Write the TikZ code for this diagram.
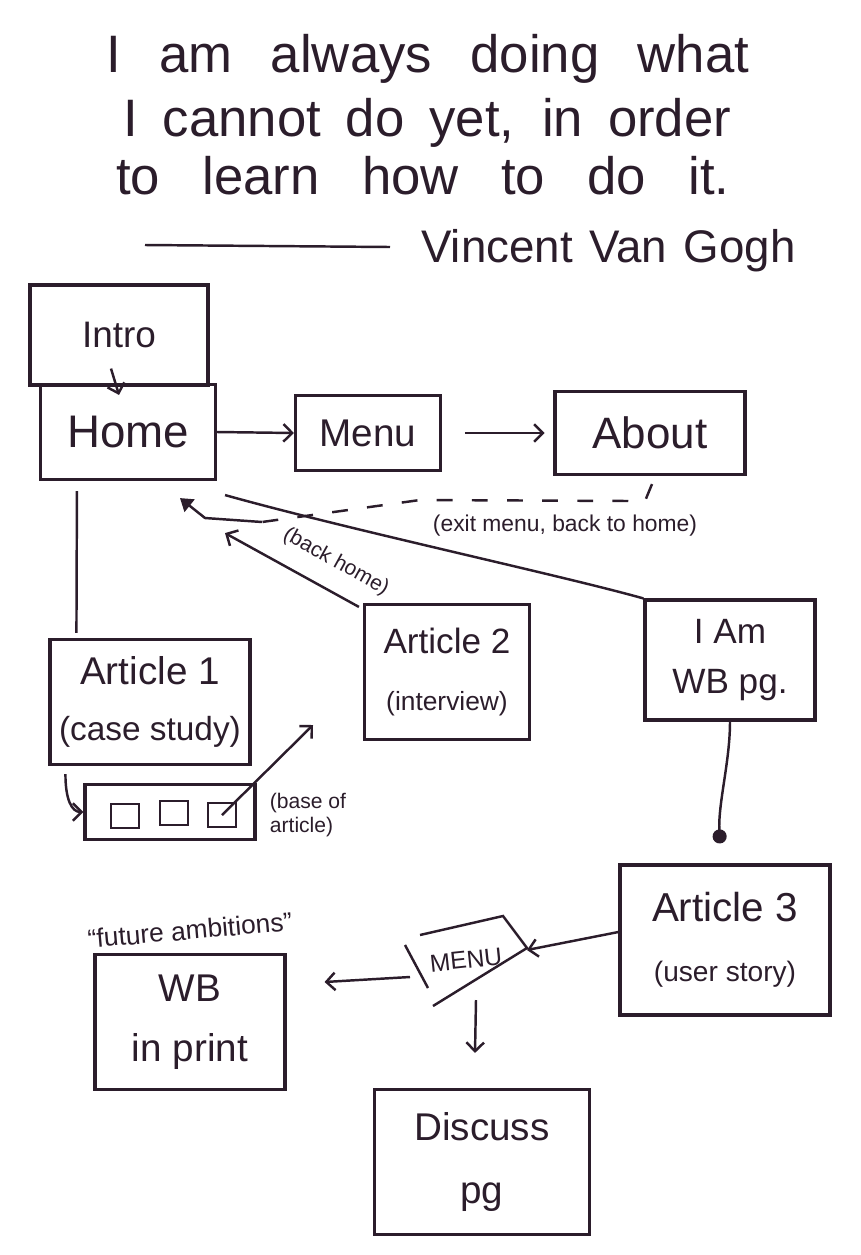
\documentclass[tikz,border=0pt]{standalone}
\usepackage{fontspec}
\setmainfont{Liberation Sans}
\usetikzlibrary{arrows.meta,positioning,calc}
\definecolor{ink}{HTML}{2B1D2B}

\begin{document}
\begin{tikzpicture}[x=0.02cm, y=-0.02cm, line width=1.4pt, draw=ink, text=ink,
    box/.style={draw=ink, line width=1.8pt, rectangle, align=center},
    arr/.style={-{Straight Barb[length=5pt,width=10pt]}},
    quote/.style={anchor=base west, inner sep=0pt, font=\fontsize{30}{36}\selectfont}]
\useasboundingbox (0,0) rectangle (860,1255);

\node[quote] (q1) at (105,72) {\makebox[366pt][s]{I am always doing what}};
\node[quote] (q2) at (122,136) {\makebox[346pt][s]{I cannot do yet, in order}};
\node[quote] (q3) at (115,194) {\makebox[349pt][s]{to learn how to do it.}};
\node[quote, font=\fontsize{26}{30}\selectfont] (author) at (420,262) {\makebox[213pt][s]{Vincent Van Gogh}};
\draw (145,245) -- (390,247);

\node[box, minimum width=3.56cm, minimum height=2.0cm, font=\fontsize{21}{24}\selectfont] (intro) at (119,335) {Intro};
\node[box, minimum width=3.5cm, minimum height=1.9cm, font=\fontsize{26}{30}\selectfont] (home) at (128,432) {Home};
\node[box, minimum width=2.9cm, minimum height=1.5cm, font=\fontsize{22}{26}\selectfont] (menu) at (368,433) {Menu};
\node[box, minimum width=3.8cm, minimum height=1.66cm, font=\fontsize{25}{30}\selectfont] (about) at (650,433) {About};

\draw[arr] ($(intro.south)+(-8,-18)$) -- ($(home.north)+(-9,12)$);
\draw[arr] (home.east) -- (menu.west);
\draw[arr, shorten <=13pt, shorten >=5pt] (menu.east) -- (about.west);

\draw[dashed, dash pattern=on 9pt off 11pt] ($(about.south)+(2,8)$) -- ($(about.south)+(-5,25)$) -- (420,500) -- (262,522);
\draw[-{Triangle[length=7pt,width=9pt]}] (262,522) -- (205,518) -- ($(home.south)+(52,17)$);
\node[font=\fontsize{13}{16}\selectfont] (exitlbl) at (565,526) {(exit menu, back to home)};

\node[box, minimum width=3.4cm, minimum height=2.4cm, font=\fontsize{20}{28}\selectfont] (iam) at (730,660) {I Am\\WB pg.};
\draw ($(home.south east)+(8,14)$) .. controls (350,530) and (560,575) .. (iam.north west);

\node[box, minimum width=4.0cm, minimum height=2.5cm, font=\fontsize{22}{32}\selectfont] (art1) at (150,702) {Article 1\\ {\fontsize{19}{24}\selectfont(case study)}};
\node[box, minimum width=3.3cm, minimum height=2.7cm, font=\fontsize{20}{32}\selectfont] (art2) at (447,672) {Article 2\\ {\fontsize{15}{20}\selectfont(interview)}};

\draw ($(home.south west)+(38,10)$) -- ($(art1.north west)+(28,-5)$);
\draw[arr] ($(art2.north west)+(-4,4)$) -- ($(home.south)+(97,52)$);
\node[rotate=-29, font=\fontsize{12}{14}\selectfont] (backlbl) at (336,562) {(back home)};

\node[box, minimum width=3.4cm, minimum height=1.1cm] (base) at (170,812) {};
\node[draw=ink, line width=1.4pt, minimum width=0.56cm, minimum height=0.48cm, inner sep=0pt] (sq1) at (125,816) {};
\node[draw=ink, line width=1.4pt, minimum width=0.56cm, minimum height=0.48cm, inner sep=0pt] (sq2) at (174,813) {};
\node[draw=ink, line width=1.4pt, minimum width=0.56cm, minimum height=0.48cm, inner sep=0pt] (sq3) at (222,815) {};
\coordinate (basetip) at (313,725);
\draw[arr] ($(art1.south west)+(17,8)$) .. controls +(0,25) and +(-12,0) .. (base.west);
\draw[arr] (sq3.center) -- (basetip);
\node[align=left, font=\fontsize{12}{14}\selectfont] (baselbl) at (308,815) {(base of\\ article)};

\node[box, minimum width=4.2cm, minimum height=3.0cm, font=\fontsize{23}{34}\selectfont] (art3) at (725,940) {Article 3\\ {\fontsize{16}{20}\selectfont(user story)}};
\draw[-{Circle[length=8pt]}] (iam.south) .. controls +(0,40) and +(-2,-40) .. ($(art3.north)+(-5,-20)$);

\node[font=\fontsize{14}{16}\selectfont, rotate=6] (mnu) at (466,960) {MENU};
\draw (405,945) -- (428,988);
\draw (420,935) -- (503,916) -- (527,948) -- (433,1006);
\coordinate (mnuright) at (527,950);
\coordinate (mnuleft) at (410,977);
\coordinate (mnudown) at (476,1000);
\draw[arr] ($(art3.west)+(0,-8)$) -- (mnuright);

\node[box, minimum width=3.8cm, minimum height=2.7cm, font=\fontsize{22}{34}\selectfont] (print) at (190,1022) {WB\\in print};
\node[rotate=5, font=\fontsize{15}{18}\selectfont] (futlbl) at (190,930) {“future ambitions”};
\draw[arr] (mnuleft) -- ($(print.east)+(38,-40)$);

\node[box, minimum width=4.3cm, minimum height=2.9cm, font=\fontsize{22}{36}\selectfont] (discuss) at (482,1162) {Discuss\\pg};
\draw[arr] (mnudown) -- ($(discuss.north)+(-7,-35)$);
\end{tikzpicture}
\end{document}
